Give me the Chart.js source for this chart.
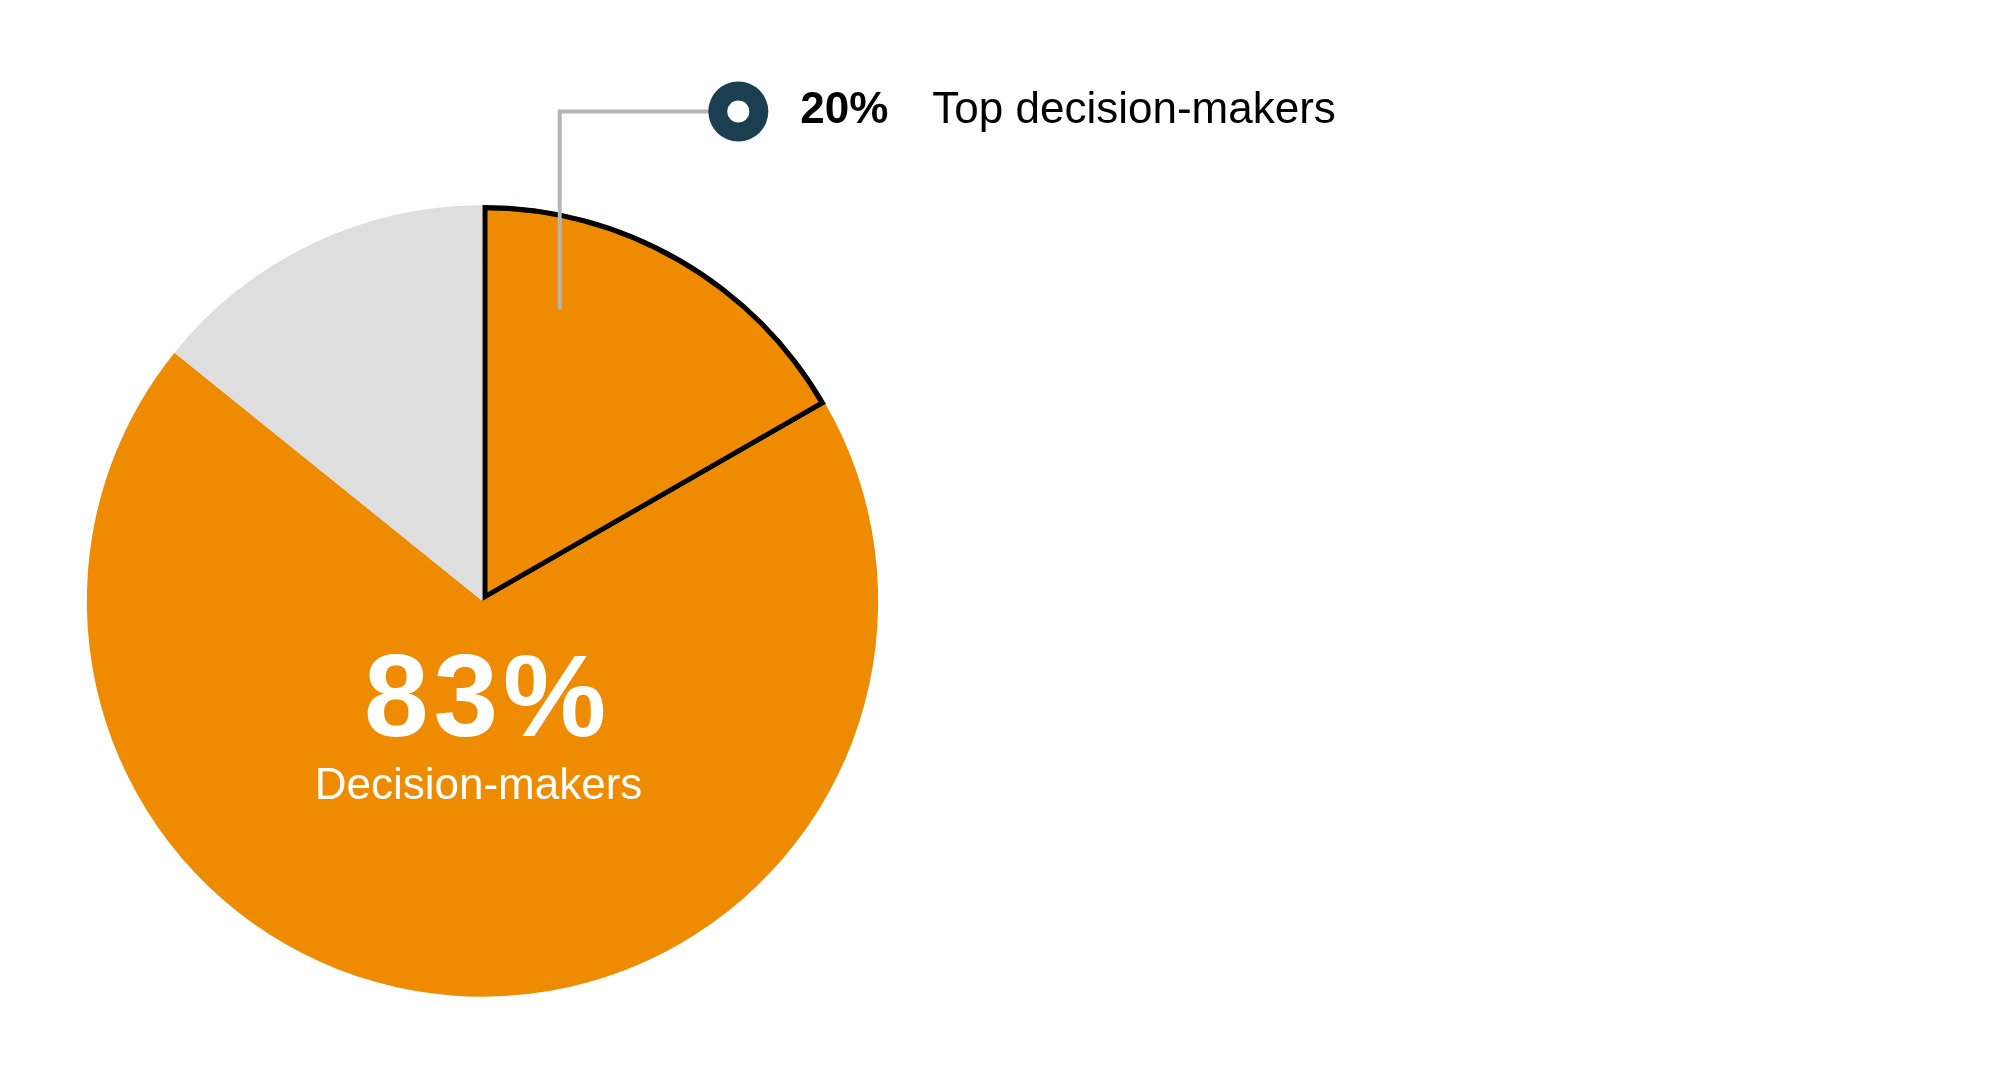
<!DOCTYPE html>
<html>
<head>
<meta charset="utf-8">
<script src="https://cdn.jsdelivr.net/npm/chart.js@4"></script>
<style>
  html, body { margin: 0; padding: 0; background: #ffffff; overflow: hidden; }
  #wrap { position: relative; width: 2000px; height: 1079px; }
</style>
</head>
<body>
<div id="wrap"><canvas id="pieChart" width="2000" height="1079"></canvas></div>
<script>
// slices, clockwise from 12 o'clock
const sliceLabels = ["Top decision-makers", "Other decision-makers", "Non-decision-makers"];
const sliceValues = [16.7, 69.1, 14.2];
const sliceColors = ["#ee8b00", "#ee8b00", "#dedede"];
const sliceBorders = [5, 0, 0];

// the text that sits on / next to the pie
const bigValue = "83%";
const bigLabel = "Decision-makers";
const calloutValue = "20%";
const calloutLabel = "Top decision-makers";

// draws the callout and the big label on top of the pie
const annotations = {
  id: "annotations",
  afterDraw(chart) {
    const ctx = chart.ctx;
    const arc = chart.getDatasetMeta(0).data[0];
    const cx = arc.x, cy = arc.y, r = arc.outerRadius;

    ctx.save();
    // connector line from inside the top slice up to the marker
    const lx = cx + 0.195 * r;
    const ly = cy - 0.737 * r;
    const my = cy - 1.236 * r;
    const mx = cx + 0.646 * r;
    ctx.strokeStyle = "#b5b5b5";
    ctx.lineWidth = 4;
    ctx.beginPath();
    ctx.moveTo(lx, ly);
    ctx.lineTo(lx, my);
    ctx.lineTo(mx, my);
    ctx.stroke();

    // ring marker
    ctx.fillStyle = "#1b3e50";
    ctx.beginPath();
    ctx.arc(mx, my, 30, 0, Math.PI * 2);
    ctx.fill();
    ctx.fillStyle = "#ffffff";
    ctx.beginPath();
    ctx.arc(mx, my, 11, 0, Math.PI * 2);
    ctx.fill();

    // callout text
    ctx.textBaseline = "middle";
    ctx.textAlign = "left";
    ctx.fillStyle = "#000000";
    ctx.font = "bold 44px 'Liberation Sans', Arial, sans-serif";
    ctx.fillText(calloutValue, mx + 62, my - 1);
    ctx.font = "44px 'Liberation Sans', Arial, sans-serif";
    ctx.fillText(calloutLabel, mx + 194, my - 1);

    // big number inside the orange slice
    ctx.fillStyle = "#ffffff";
    ctx.textAlign = "center";
    ctx.textBaseline = "alphabetic";
    ctx.font = "bold 116px 'Liberation Sans', Arial, sans-serif";
    ctx.letterSpacing = "5px";
    ctx.fillText(bigValue, cx + 5, cy + 135);
    ctx.letterSpacing = "0px";
    ctx.font = "44px 'Liberation Sans', Arial, sans-serif";
    ctx.fillText(bigLabel, cx - 4, cy + 198);
    ctx.restore();
  }
};

new Chart("pieChart", {
  type: "pie",
  data: {
    labels: sliceLabels,
    datasets: [{
      data: sliceValues,
      backgroundColor: sliceColors,
      borderColor: "#000000",
      borderWidth: sliceBorders,
      borderAlign: "inner",
      borderJoinStyle: "miter"
    }]
  },
  options: {
    responsive: false,
    animation: false,
    devicePixelRatio: 1,
    layout: {
      padding: { left: 86, top: 205, right: 1121, bottom: 82 }
    },
    plugins: {
      legend: { display: false },
      tooltip: { enabled: false }
    }
  },
  plugins: [annotations]
});
</script>
</body>
</html>
